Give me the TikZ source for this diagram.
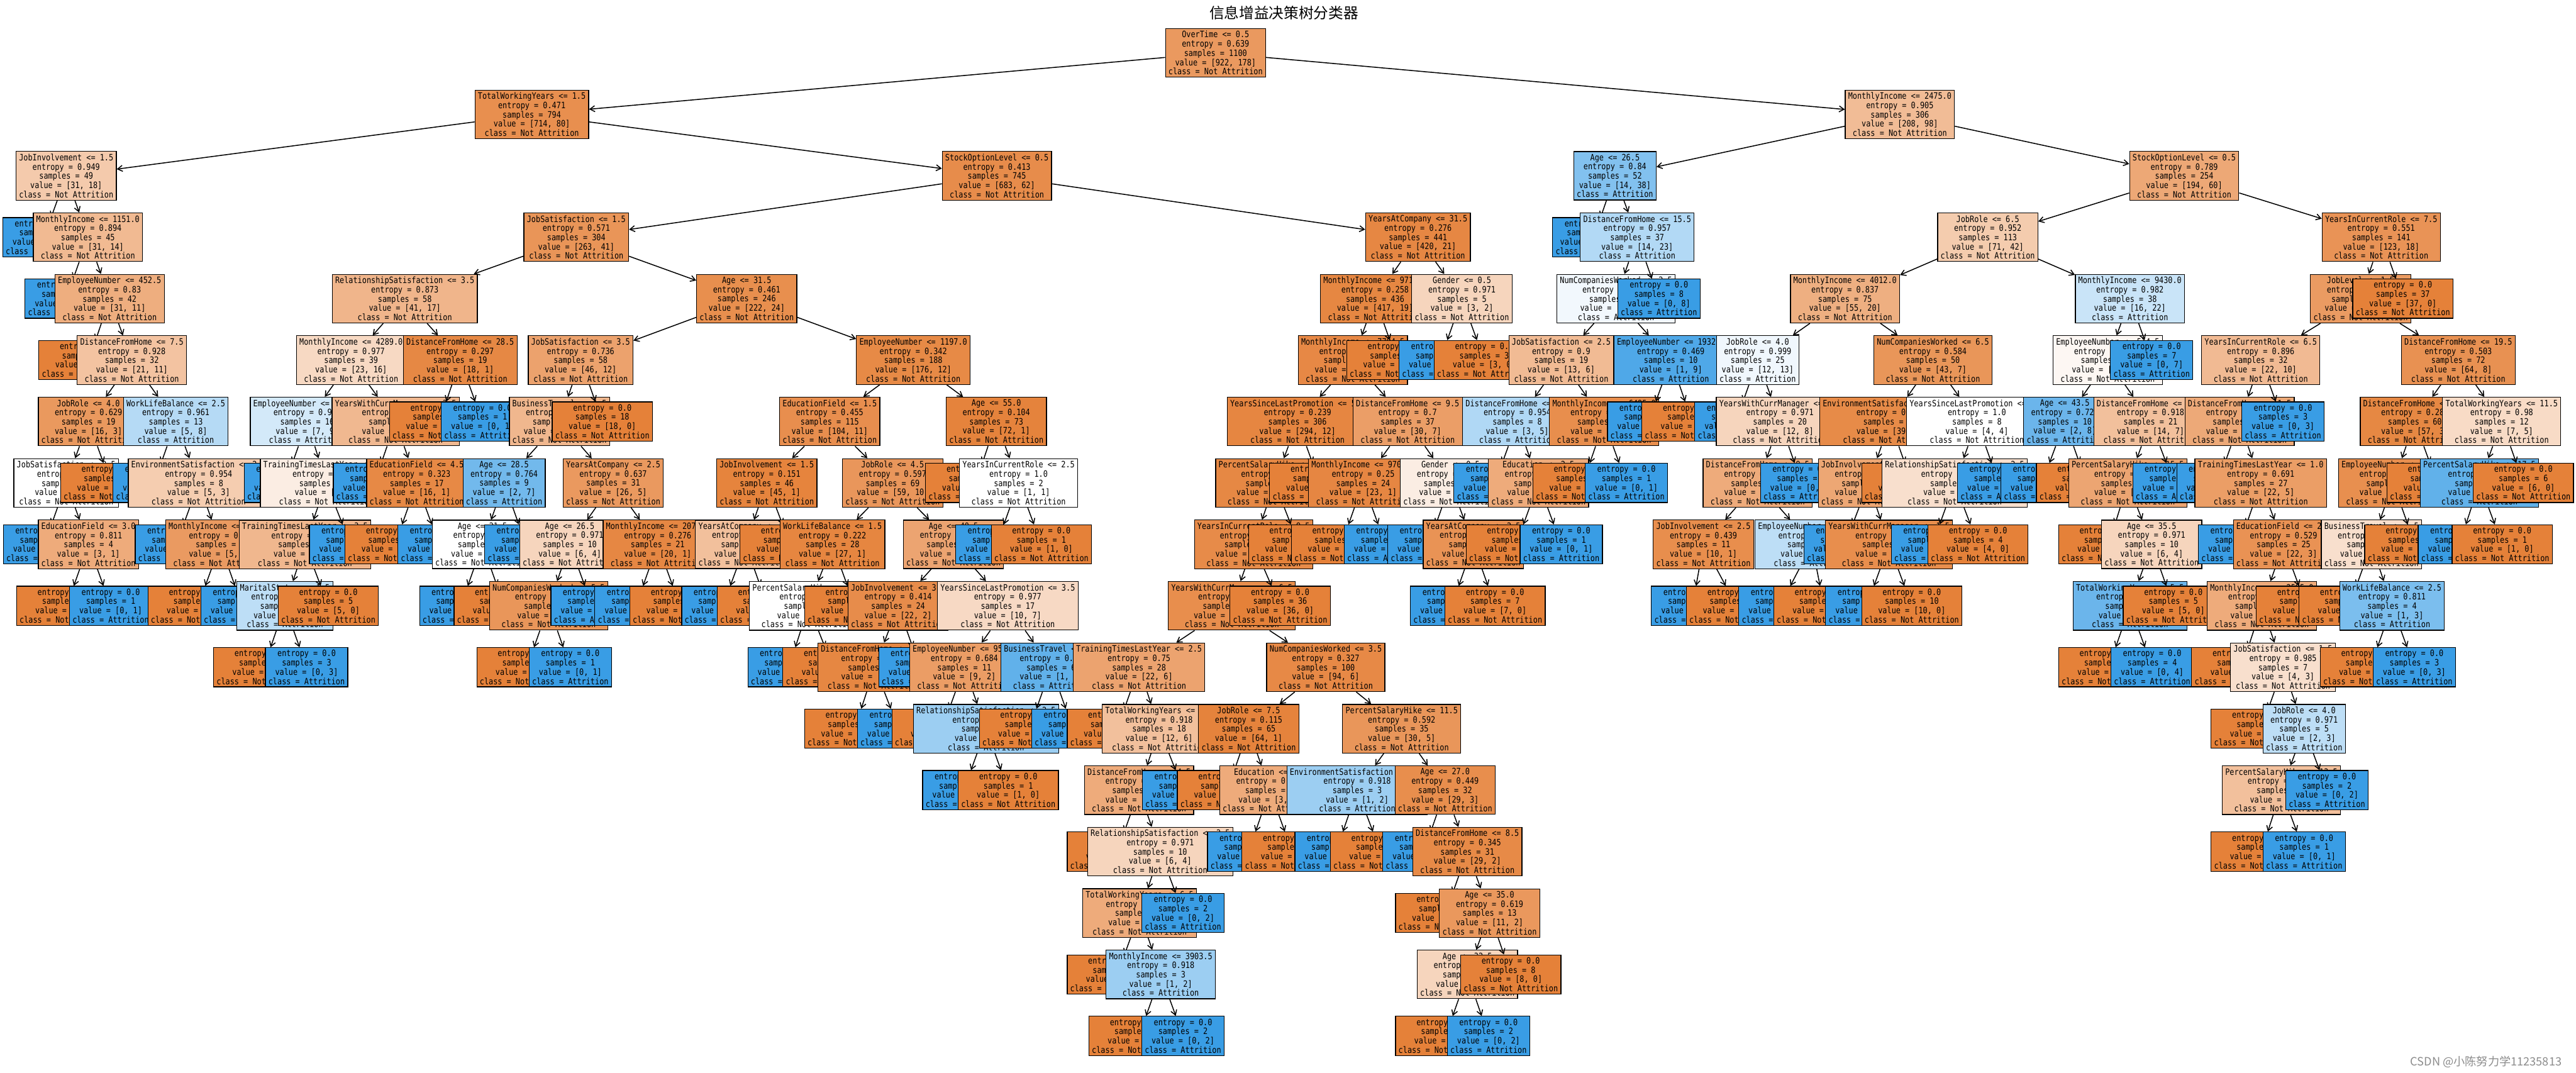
\documentclass[tikz,border=0pt]{standalone}
\usepackage{fontspec}
\newfontfamily\monofont[FakeStretch=0.85]{DejaVu Sans Mono}
\newfontfamily\cjk{Noto Sans CJK SC}
\usetikzlibrary{arrows.meta}
\definecolor{corange}{RGB}{229,129,57}
\definecolor{cblue}{RGB}{57,157,229}
\tikzset{
  tnode/.style={draw=black, line width=0.4pt, align=center, inner xsep=0.055cm, inner ysep=0.045cm,
    font=\monofont\fontsize{4.6pt}{4.84pt}\selectfont},
  tedge/.style={line width=0.5pt, -{Straight Barb[length=0.09cm,width=0.11cm]}}
}
% #1 parent, #2 name, #3 x (px), #4 level, #5 split (empty = leaf), #6 entropy, #7 a, #8 b
\newcommand{\tn}[8]{%
  \pgfmathtruncatemacro{\tnS}{#7+#8}%
  \ifnum#7<#8\relax
    \def\tnC{Attrition}%
    \pgfmathsetmacro{\tnA}{100*(1-#7/#8)}%
    \colorlet{tnfill}{cblue!\tnA!white}%
  \else
    \def\tnC{Not Attrition}%
    \pgfmathsetmacro{\tnA}{100*(1-#8/#7)}%
    \colorlet{tnfill}{corange!\tnA!white}%
  \fi
  \if\relax\detokenize{#5}\relax
    \node[tnode,fill=tnfill] (#2) at ({#3/100},{-(0.975+1.132*#4)}) {entropy = #6\\samples = \tnS\\value = [#7, #8]\\class = \tnC};%
  \else
    \node[tnode,fill=tnfill] (#2) at ({#3/100},{-(0.975+1.132*#4)}) {#5\\entropy = #6\\samples = \tnS\\value = [#7, #8]\\class = \tnC};%
  \fi
  \if\relax\detokenize{#1}\relax\else\draw[tedge] (#1) -- (#2);\fi
}
\begin{document}
\begin{tikzpicture}
\fill[white] (0,0) rectangle (47.47,-19.76);
\useasboundingbox (0,0) rectangle (47.47,-19.76);
\node[font=\cjk\fontsize{7.8pt}{8pt}\selectfont] (title) at (23.66,-0.24) {信息增益决策树分类器};
\node[anchor=east, text=black!45, font=\cjk\fontsize{6pt}{6pt}\selectfont] (wm) at (47.33,-19.57) {CSDN @小陈努力学11235813};

\tn{}{n0}{2240}{0}{OverTime <= 0.5}{0.639}{922}{178}
\tn{n0}{n1}{980}{1}{TotalWorkingYears <= 1.5}{0.471}{714}{80}
\tn{n1}{n2}{122}{2}{JobInvolvement <= 1.5}{0.949}{31}{18}
\tn{n2}{n3}{81}{3}{}{0.0}{0}{4}
\tn{n2}{n4}{162}{3}{MonthlyIncome <= 1151.0}{0.894}{31}{14}
\tn{n4}{n5}{122}{4}{}{0.0}{0}{3}
\tn{n4}{n6}{202}{4}{EmployeeNumber <= 452.5}{0.83}{31}{11}
\tn{n6}{n7}{164}{5}{}{0.0}{10}{0}
\tn{n6}{n8}{243}{5}{DistanceFromHome <= 7.5}{0.928}{21}{11}
\tn{n8}{n9}{163}{6}{JobRole <= 4.0}{0.629}{16}{3}
\tn{n9}{n10}{122}{7}{JobSatisfaction <= 2.5}{1.0}{3}{3}
\tn{n10}{n11}{82}{8}{}{0.0}{0}{2}
\tn{n10}{n12}{163}{8}{EducationField <= 3.0}{0.811}{3}{1}
\tn{n12}{n13}{123}{9}{}{0.0}{3}{0}
\tn{n12}{n14}{204}{9}{}{0.0}{0}{1}
\tn{n9}{n15}{204}{7}{}{0.0}{13}{0}
\tn{n8}{n16}{324}{6}{WorkLifeBalance <= 2.5}{0.961}{5}{8}
\tn{n16}{n17}{284}{7}{}{0.0}{0}{5}
\tn{n16}{n18}{366}{7}{EnvironmentSatisfaction <= 2.5}{0.954}{5}{3}
\tn{n18}{n19}{325}{8}{}{0.0}{0}{2}
\tn{n18}{n20}{406}{8}{MonthlyIncome <= 2854.5}{0.65}{5}{1}
\tn{n20}{n21}{365}{9}{}{0.0}{5}{0}
\tn{n20}{n22}{446}{9}{}{0.0}{0}{1}
\tn{n1}{n23}{1837}{2}{StockOptionLevel <= 0.5}{0.413}{683}{62}
\tn{n23}{n24}{1062}{3}{JobSatisfaction <= 1.5}{0.571}{263}{41}
\tn{n24}{n25}{746}{4}{RelationshipSatisfaction <= 3.5}{0.873}{41}{17}
\tn{n25}{n26}{647}{5}{MonthlyIncome <= 4289.0}{0.977}{23}{16}
\tn{n26}{n27}{566}{6}{EmployeeNumber <= 1236.5}{0.989}{7}{9}
\tn{n27}{n28}{526}{7}{}{0.0}{0}{3}
\tn{n27}{n29}{601}{7}{TrainingTimesLastYear <= 2.5}{0.996}{7}{6}
\tn{n29}{n30}{562}{8}{TrainingTimesLastYear <= 3.5}{0.881}{7}{3}
\tn{n30}{n31}{525}{9}{MaritalStatus <= 1.5}{0.971}{2}{3}
\tn{n31}{n32}{486}{10}{}{0.0}{2}{0}
\tn{n31}{n33}{565}{10}{}{0.0}{0}{3}
\tn{n30}{n34}{605}{9}{}{0.0}{5}{0}
\tn{n29}{n35}{646}{8}{}{0.0}{0}{3}
\tn{n26}{n36}{729}{6}{YearsWithCurrManager <= 3.5}{0.887}{16}{7}
\tn{n36}{n37}{690}{7}{}{0.0}{0}{6}
\tn{n36}{n38}{768}{7}{EducationField <= 4.5}{0.323}{16}{1}
\tn{n38}{n39}{728}{8}{}{0.0}{16}{0}
\tn{n38}{n40}{809}{8}{}{0.0}{0}{1}
\tn{n25}{n41}{848}{5}{DistanceFromHome <= 28.5}{0.297}{18}{1}
\tn{n41}{n42}{810}{6}{}{0.0}{18}{0}
\tn{n41}{n43}{889}{6}{}{0.0}{0}{1}
\tn{n24}{n44}{1376}{4}{Age <= 31.5}{0.461}{222}{24}
\tn{n44}{n45}{1070}{5}{JobSatisfaction <= 3.5}{0.736}{46}{12}
\tn{n45}{n46}{1031}{6}{BusinessTravel <= 1.5}{0.881}{28}{12}
\tn{n46}{n47}{929}{7}{Age <= 28.5}{0.764}{2}{7}
\tn{n47}{n48}{889}{8}{Age <= 21.5}{1.0}{2}{2}
\tn{n48}{n49}{849}{9}{}{0.0}{0}{2}
\tn{n48}{n50}{929}{9}{}{0.0}{2}{0}
\tn{n47}{n51}{969}{8}{}{0.0}{0}{5}
\tn{n46}{n52}{1130}{7}{YearsAtCompany <= 2.5}{0.637}{26}{5}
\tn{n52}{n53}{1050}{8}{Age <= 26.5}{0.971}{6}{4}
\tn{n53}{n54}{1011}{9}{NumCompaniesWorked <= 5.5}{0.592}{6}{1}
\tn{n54}{n55}{971}{10}{}{0.0}{6}{0}
\tn{n54}{n56}{1051}{10}{}{0.0}{0}{1}
\tn{n53}{n57}{1091}{9}{}{0.0}{0}{3}
\tn{n52}{n58}{1212}{8}{MonthlyIncome <= 2070.0}{0.276}{20}{1}
\tn{n58}{n59}{1172}{9}{}{0.0}{0}{1}
\tn{n58}{n60}{1253}{9}{}{0.0}{20}{0}
\tn{n45}{n61}{1110}{6}{}{0.0}{18}{0}
\tn{n44}{n62}{1683}{5}{EmployeeNumber <= 1197.0}{0.342}{176}{12}
\tn{n62}{n63}{1529}{6}{EducationField <= 1.5}{0.455}{104}{11}
\tn{n63}{n64}{1413}{7}{JobInvolvement <= 1.5}{0.151}{45}{1}
\tn{n64}{n65}{1374}{8}{YearsAtCompany <= 1.5}{0.918}{2}{1}
\tn{n65}{n66}{1332}{9}{}{0.0}{0}{1}
\tn{n65}{n67}{1414}{9}{}{0.0}{2}{0}
\tn{n64}{n68}{1456}{8}{}{0.0}{43}{0}
\tn{n63}{n69}{1645}{7}{JobRole <= 4.5}{0.597}{59}{10}
\tn{n69}{n70}{1534}{8}{WorkLifeBalance <= 1.5}{0.222}{27}{1}
\tn{n70}{n71}{1490}{9}{PercentSalaryHike <= 13.5}{1.0}{1}{1}
\tn{n71}{n72}{1454}{10}{}{0.0}{0}{1}
\tn{n71}{n73}{1535}{10}{}{0.0}{1}{0}
\tn{n70}{n74}{1575}{9}{}{0.0}{26}{0}
\tn{n69}{n75}{1757}{8}{Age <= 40.5}{0.759}{32}{9}
\tn{n75}{n76}{1655}{9}{JobInvolvement <= 3.5}{0.414}{22}{2}
\tn{n76}{n77}{1612}{10}{DistanceFromHome <= 24.0}{0.258}{22}{1}
\tn{n77}{n78}{1575}{11}{}{0.0}{22}{0}
\tn{n77}{n79}{1656}{11}{}{0.0}{0}{1}
\tn{n76}{n80}{1695}{10}{}{0.0}{0}{1}
\tn{n75}{n81}{1857}{9}{YearsSinceLastPromotion <= 3.5}{0.977}{10}{7}
\tn{n81}{n82}{1777}{10}{EmployeeNumber <= 956.0}{0.684}{9}{2}
\tn{n82}{n83}{1736}{11}{}{0.0}{8}{0}
\tn{n82}{n84}{1817}{11}{RelationshipSatisfaction <= 2.5}{0.918}{1}{2}
\tn{n84}{n85}{1776}{12}{}{0.0}{0}{2}
\tn{n84}{n86}{1858}{12}{}{0.0}{1}{0}
\tn{n81}{n87}{1937}{10}{BusinessTravel <= 1.5}{0.65}{1}{5}
\tn{n87}{n88}{1897}{11}{}{0.0}{1}{0}
\tn{n87}{n89}{1977}{11}{}{0.0}{0}{5}
\tn{n62}{n90}{1836}{6}{Age <= 55.0}{0.104}{72}{1}
\tn{n90}{n91}{1798}{7}{}{0.0}{71}{0}
\tn{n90}{n92}{1877}{7}{YearsInCurrentRole <= 2.5}{1.0}{1}{1}
\tn{n92}{n93}{1837}{8}{}{0.0}{0}{1}
\tn{n92}{n94}{1919}{8}{}{0.0}{1}{0}
\tn{n23}{n95}{2613}{3}{YearsAtCompany <= 31.5}{0.276}{420}{21}
\tn{n95}{n96}{2534}{4}{MonthlyIncome <= 9716.0}{0.258}{417}{19}
\tn{n96}{n97}{2493}{5}{MonthlyIncome <= 7704.5}{0.309}{324}{19}
\tn{n97}{n98}{2391}{6}{YearsSinceLastPromotion <= 5.5}{0.239}{294}{12}
\tn{n98}{n99}{2349}{7}{PercentSalaryHike <= 21.5}{0.299}{214}{12}
\tn{n99}{n100}{2310}{8}{YearsInCurrentRole <= 9.5}{0.378}{152}{12}
\tn{n100}{n101}{2270}{9}{YearsWithCurrManager <= 6.5}{0.449}{116}{12}
\tn{n101}{n102}{2099}{10}{TrainingTimesLastYear <= 2.5}{0.75}{22}{6}
\tn{n102}{n103}{2059}{11}{}{0.0}{10}{0}
\tn{n102}{n104}{2136}{11}{TotalWorkingYears <= 7.5}{0.918}{12}{6}
\tn{n104}{n105}{2099}{12}{DistanceFromHome <= 4.5}{0.811}{12}{4}
\tn{n105}{n106}{2059}{13}{}{0.0}{6}{0}
\tn{n105}{n107}{2138}{13}{RelationshipSatisfaction <= 2.5}{0.971}{6}{4}
\tn{n107}{n108}{2100}{14}{TotalWorkingYears <= 6.5}{0.811}{6}{2}
\tn{n108}{n109}{2059}{15}{}{0.0}{5}{0}
\tn{n108}{n110}{2139}{15}{MonthlyIncome <= 3903.5}{0.918}{1}{2}
\tn{n110}{n111}{2099}{16}{}{0.0}{1}{0}
\tn{n110}{n112}{2180}{16}{}{0.0}{0}{2}
\tn{n107}{n113}{2180}{14}{}{0.0}{0}{2}
\tn{n104}{n114}{2181}{12}{}{0.0}{0}{2}
\tn{n101}{n115}{2443}{10}{NumCompaniesWorked <= 3.5}{0.327}{94}{6}
\tn{n115}{n116}{2301}{11}{JobRole <= 7.5}{0.115}{64}{1}
\tn{n116}{n117}{2262}{12}{}{0.0}{61}{0}
\tn{n116}{n118}{2340}{12}{Education <= 1.5}{0.811}{3}{1}
\tn{n118}{n119}{2301}{13}{}{0.0}{0}{1}
\tn{n118}{n120}{2381}{13}{}{0.0}{3}{0}
\tn{n115}{n121}{2583}{11}{PercentSalaryHike <= 11.5}{0.592}{30}{5}
\tn{n121}{n122}{2501}{12}{EnvironmentSatisfaction <= 1.5}{0.918}{1}{2}
\tn{n122}{n123}{2462}{13}{}{0.0}{0}{2}
\tn{n122}{n124}{2544}{13}{}{0.0}{1}{0}
\tn{n121}{n125}{2663}{12}{Age <= 27.0}{0.449}{29}{3}
\tn{n125}{n126}{2624}{13}{}{0.0}{0}{1}
\tn{n125}{n127}{2704}{13}{DistanceFromHome <= 8.5}{0.345}{29}{2}
\tn{n127}{n128}{2664}{14}{}{0.0}{18}{0}
\tn{n127}{n129}{2745}{14}{Age <= 35.0}{0.619}{11}{2}
\tn{n129}{n130}{2704}{15}{Age <= 32.5}{0.971}{3}{2}
\tn{n130}{n131}{2664}{16}{}{0.0}{3}{0}
\tn{n130}{n132}{2743}{16}{}{0.0}{0}{2}
\tn{n129}{n133}{2784}{15}{}{0.0}{8}{0}
\tn{n100}{n134}{2359}{9}{}{0.0}{36}{0}
\tn{n99}{n135}{2393}{8}{}{0.0}{62}{0}
\tn{n98}{n136}{2432}{7}{}{0.0}{80}{0}
\tn{n97}{n137}{2594}{6}{DistanceFromHome <= 9.5}{0.7}{30}{7}
\tn{n137}{n138}{2512}{7}{MonthlyIncome <= 9702.5}{0.25}{23}{1}
\tn{n138}{n139}{2472}{8}{}{0.0}{23}{0}
\tn{n138}{n140}{2553}{8}{}{0.0}{0}{1}
\tn{n137}{n141}{2673}{7}{Gender <= 0.5}{0.996}{7}{6}
\tn{n141}{n142}{2633}{8}{}{0.0}{0}{5}
\tn{n141}{n143}{2715}{8}{YearsAtCompany <= 2.5}{0.544}{7}{1}
\tn{n143}{n144}{2675}{9}{}{0.0}{0}{1}
\tn{n143}{n145}{2755}{9}{}{0.0}{7}{0}
\tn{n96}{n146}{2574}{5}{}{0.0}{93}{0}
\tn{n95}{n147}{2694}{4}{Gender <= 0.5}{0.971}{3}{2}
\tn{n147}{n148}{2654}{5}{}{0.0}{0}{2}
\tn{n147}{n149}{2735}{5}{}{0.0}{3}{0}
\tn{n0}{n150}{3501}{1}{MonthlyIncome <= 2475.0}{0.905}{208}{98}
\tn{n150}{n151}{2976}{2}{Age <= 26.5}{0.84}{14}{38}
\tn{n151}{n152}{2937}{3}{}{0.0}{0}{15}
\tn{n151}{n153}{3017}{3}{DistanceFromHome <= 15.5}{0.957}{14}{23}
\tn{n153}{n154}{2978}{4}{NumCompaniesWorked <= 2.5}{0.999}{14}{15}
\tn{n154}{n155}{2877}{5}{JobSatisfaction <= 2.5}{0.9}{13}{6}
\tn{n155}{n156}{2796}{6}{DistanceFromHome <= 4.5}{0.954}{3}{5}
\tn{n156}{n157}{2755}{7}{}{0.0}{0}{4}
\tn{n156}{n158}{2835}{7}{Education <= 2.5}{0.811}{3}{1}
\tn{n158}{n159}{2794}{8}{}{0.0}{3}{0}
\tn{n158}{n160}{2877}{8}{}{0.0}{0}{1}
\tn{n155}{n161}{2956}{6}{MonthlyIncome <= 6495.0}{0.439}{10}{1}
\tn{n161}{n162}{2917}{7}{}{0.0}{10}{0}
\tn{n161}{n163}{2997}{7}{}{0.0}{0}{1}
\tn{n154}{n164}{3079}{5}{EmployeeNumber <= 1932.0}{0.469}{1}{9}
\tn{n164}{n165}{3038}{6}{}{0.0}{0}{9}
\tn{n164}{n166}{3118}{6}{}{0.0}{1}{0}
\tn{n153}{n167}{3057}{4}{}{0.0}{0}{8}
\tn{n150}{n168}{4025}{2}{StockOptionLevel <= 0.5}{0.789}{194}{60}
\tn{n168}{n169}{3663}{3}{JobRole <= 6.5}{0.952}{71}{42}
\tn{n169}{n170}{3400}{4}{MonthlyIncome <= 4012.0}{0.837}{55}{20}
\tn{n170}{n171}{3239}{5}{JobRole <= 4.0}{0.999}{12}{13}
\tn{n171}{n172}{3199}{6}{}{0.0}{0}{5}
\tn{n171}{n173}{3280}{6}{YearsWithCurrManager <= 2.5}{0.971}{12}{8}
\tn{n173}{n174}{3239}{7}{DistanceFromHome <= 9.5}{0.811}{12}{4}
\tn{n174}{n175}{3139}{8}{JobInvolvement <= 2.5}{0.439}{10}{1}
\tn{n175}{n176}{3119}{9}{}{0.0}{0}{1}
\tn{n175}{n177}{3200}{9}{}{0.0}{10}{0}
\tn{n174}{n178}{3339}{8}{EmployeeNumber <= 1103.5}{0.971}{2}{3}
\tn{n178}{n179}{3280}{9}{}{0.0}{0}{3}
\tn{n178}{n180}{3361}{9}{}{0.0}{2}{0}
\tn{n173}{n181}{3320}{7}{}{0.0}{0}{4}
\tn{n170}{n182}{3562}{5}{NumCompaniesWorked <= 6.5}{0.584}{43}{7}
\tn{n182}{n183}{3483}{6}{EnvironmentSatisfaction <= 1.5}{0.371}{39}{3}
\tn{n183}{n184}{3443}{7}{JobInvolvement <= 2.5}{0.779}{10}{3}
\tn{n184}{n185}{3400}{8}{}{0.0}{0}{2}
\tn{n184}{n186}{3481}{8}{YearsWithCurrManager <= 1.5}{0.439}{10}{1}
\tn{n186}{n187}{3440}{9}{}{0.0}{0}{1}
\tn{n186}{n188}{3523}{9}{}{0.0}{10}{0}
\tn{n183}{n189}{3523}{7}{}{0.0}{29}{0}
\tn{n182}{n190}{3643}{6}{YearsSinceLastPromotion <= 0.5}{1.0}{4}{4}
\tn{n190}{n191}{3602}{7}{RelationshipSatisfaction <= 2.5}{0.985}{4}{3}
\tn{n191}{n192}{3561}{8}{}{0.0}{0}{3}
\tn{n191}{n193}{3645}{8}{}{0.0}{4}{0}
\tn{n190}{n194}{3683}{7}{}{0.0}{0}{1}
\tn{n169}{n195}{3925}{4}{MonthlyIncome <= 9430.0}{0.982}{16}{22}
\tn{n195}{n196}{3884}{5}{EmployeeNumber <= 514.5}{0.999}{16}{15}
\tn{n196}{n197}{3805}{6}{Age <= 43.5}{0.722}{2}{8}
\tn{n197}{n198}{3763}{7}{}{0.0}{0}{8}
\tn{n197}{n199}{3845}{7}{}{0.0}{2}{0}
\tn{n196}{n200}{3963}{6}{DistanceFromHome <= 17.5}{0.918}{14}{7}
\tn{n200}{n201}{3921}{7}{PercentSalaryHike <= 15.5}{0.764}{14}{4}
\tn{n201}{n202}{3886}{8}{}{0.0}{8}{0}
\tn{n201}{n203}{3965}{8}{Age <= 35.5}{0.971}{6}{4}
\tn{n203}{n204}{3925}{9}{TotalWorkingYears <= 5.5}{0.722}{1}{4}
\tn{n204}{n205}{3886}{10}{}{0.0}{1}{0}
\tn{n204}{n206}{3966}{10}{}{0.0}{0}{4}
\tn{n203}{n207}{4005}{9}{}{0.0}{5}{0}
\tn{n200}{n208}{4006}{7}{}{0.0}{0}{3}
\tn{n195}{n209}{3965}{5}{}{0.0}{0}{7}
\tn{n168}{n210}{4388}{3}{YearsInCurrentRole <= 7.5}{0.551}{123}{18}
\tn{n210}{n211}{4350}{4}{JobLevel <= 1.5}{0.665}{86}{18}
\tn{n211}{n212}{4166}{5}{YearsInCurrentRole <= 6.5}{0.896}{22}{10}
\tn{n212}{n213}{4127}{6}{DistanceFromHome <= 1.5}{0.797}{22}{7}
\tn{n213}{n214}{4087}{7}{}{0.0}{0}{2}
\tn{n213}{n215}{4166}{7}{TrainingTimesLastYear <= 1.0}{0.691}{22}{5}
\tn{n215}{n216}{4127}{8}{}{0.0}{0}{2}
\tn{n215}{n217}{4208}{8}{EducationField <= 2.5}{0.529}{22}{3}
\tn{n217}{n218}{4168}{9}{MonthlyIncome <= 2595.0}{0.811}{9}{3}
\tn{n218}{n219}{4131}{10}{}{0.0}{5}{0}
\tn{n218}{n220}{4207}{10}{JobSatisfaction <= 1.5}{0.985}{4}{3}
\tn{n220}{n221}{4167}{11}{}{0.0}{2}{0}
\tn{n220}{n222}{4246}{11}{JobRole <= 4.0}{0.971}{2}{3}
\tn{n222}{n223}{4204}{12}{PercentSalaryHike <= 13.5}{0.918}{2}{1}
\tn{n223}{n224}{4167}{13}{}{0.0}{2}{0}
\tn{n223}{n225}{4246}{13}{}{0.0}{0}{1}
\tn{n222}{n226}{4288}{12}{}{0.0}{0}{2}
\tn{n217}{n227}{4250}{9}{}{0.0}{13}{0}
\tn{n212}{n228}{4207}{6}{}{0.0}{0}{3}
\tn{n211}{n229}{4530}{5}{DistanceFromHome <= 19.5}{0.503}{64}{8}
\tn{n229}{n230}{4450}{6}{DistanceFromHome <= 1.5}{0.286}{57}{3}
\tn{n230}{n231}{4410}{7}{EmployeeNumber <= 123.5}{0.469}{27}{3}
\tn{n231}{n232}{4370}{8}{BusinessTravel <= 1.5}{0.985}{4}{3}
\tn{n232}{n233}{4329}{9}{}{0.0}{3}{0}
\tn{n232}{n234}{4408}{9}{WorkLifeBalance <= 2.5}{0.811}{1}{3}
\tn{n234}{n235}{4368}{10}{}{0.0}{1}{0}
\tn{n234}{n236}{4449}{10}{}{0.0}{0}{3}
\tn{n231}{n237}{4450}{8}{}{0.0}{23}{0}
\tn{n230}{n238}{4491}{7}{}{0.0}{30}{0}
\tn{n229}{n239}{4610}{6}{TotalWorkingYears <= 11.5}{0.98}{7}{5}
\tn{n239}{n240}{4569}{7}{PercentSalaryHike <= 17.5}{0.65}{1}{5}
\tn{n240}{n241}{4532}{8}{}{0.0}{0}{5}
\tn{n240}{n242}{4611}{8}{}{0.0}{1}{0}
\tn{n239}{n243}{4650}{7}{}{0.0}{6}{0}
\tn{n210}{n244}{4428}{4}{}{0.0}{37}{0}
\end{tikzpicture}
\end{document}
